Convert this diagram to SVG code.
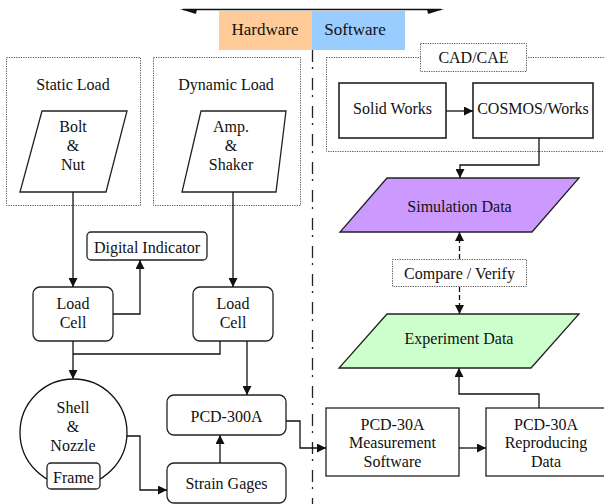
<svg xmlns="http://www.w3.org/2000/svg" width="604" height="504" viewBox="0 0 604 504">
<defs>
<marker id="ah" viewBox="0 0 10 10" refX="10" refY="5" markerWidth="9" markerHeight="9" markerUnits="userSpaceOnUse" orient="auto">
<path d="M0,0 L10,5 L0,10 Z" fill="#111"/>
</marker>
</defs>
<style>
text{font-family:"Liberation Serif","Times New Roman",serif;font-size:16px;fill:#111;text-anchor:middle}
.box{fill:#fff;stroke:#222;stroke-width:1.3}
.dot{fill:none;stroke:#555;stroke-width:1;stroke-dasharray:1.2 1.2}
.dotw{fill:#fff;stroke:#555;stroke-width:1;stroke-dasharray:1.2 1.2}
.c{fill:none;stroke:#111;stroke-width:1.3}
.ca{fill:none;stroke:#111;stroke-width:1.3;marker-end:url(#ah)}
.cd{fill:none;stroke:#111;stroke-width:1.3;stroke-dasharray:5 3;marker-end:url(#ah)}
</style>

<g id="header">
<line x1="183" y1="9.5" x2="441" y2="9.5" stroke="#111" stroke-width="1.5"/>
<path d="M180,9 L197,9 L196,14 Z" fill="#111"/>
<path d="M444,9 L427,9 L428,14 Z" fill="#111"/>
<rect x="219" y="11" width="93" height="39" fill="#FFCC99"/>
<rect x="312" y="11" width="93" height="39" fill="#99CCFF"/>
<text x="265" y="35" style="font-size:17px">Hardware</text>
<text x="355" y="35" style="font-size:17px">Software</text>
</g>

<g id="divider">
<line x1="312.5" y1="50" x2="312.5" y2="504" stroke="#222" stroke-width="1.3" stroke-dasharray="12 5 2 9"/>
</g>

<g id="static-load">
<rect class="dot" x="6.5" y="57.5" width="134" height="148"/>
<text x="73" y="90">Static Load</text>
</g>
<g id="dynamic-load">
<rect class="dot" x="153.5" y="57.5" width="147" height="148"/>
<text x="226" y="90">Dynamic Load</text>
</g>
<g id="bolt-nut">
<polygon class="box" points="42,111 127,111 106,192 20,192"/>
<text x="73" y="132">Bolt</text>
<text x="73" y="151">&amp;</text>
<text x="73" y="170">Nut</text>
</g>
<g id="amp-shaker">
<polygon class="box" points="201,111 286,111 276,192 182,192"/>
<text x="231" y="132">Amp.</text>
<text x="231" y="151">&amp;</text>
<text x="231" y="170">Shaker</text>
</g>
<g id="digital-indicator">
<rect class="box" x="87" y="232" width="120" height="28" rx="4"/>
<text x="147" y="253">Digital Indicator</text>
</g>
<g id="load-cell-1">
<rect class="box" x="33" y="287" width="80" height="54" rx="7"/>
<text x="73" y="309">Load</text>
<text x="73" y="328">Cell</text>
</g>
<g id="load-cell-2">
<rect class="box" x="193" y="287" width="80" height="54" rx="7"/>
<text x="233" y="309">Load</text>
<text x="233" y="328">Cell</text>
</g>
<g id="shell-nozzle">
<circle cx="73.5" cy="432.5" r="53.5" fill="#fff" stroke="#111" stroke-width="1.3"/>
<text x="73" y="413">Shell</text>
<text x="73" y="432">&amp;</text>
<text x="73" y="451">Nozzle</text>
</g>
<g id="frame">
<rect class="box" x="47" y="463" width="53" height="26" rx="4"/>
<text x="73.5" y="483">Frame</text>
</g>
<g id="pcd-300a">
<rect class="box" x="167" y="395" width="119" height="40" rx="7"/>
<text x="226.5" y="422">PCD-300A</text>
</g>
<g id="strain-gages">
<rect class="box" x="167" y="463" width="119" height="40" rx="7"/>
<text x="226.5" y="489">Strain Gages</text>
</g>

<g id="cad-cae">
<rect class="dot" x="326.5" y="57.5" width="300" height="94"/>
<rect class="dotw" x="420.5" y="43.5" width="106" height="28"/>
<text x="473.5" y="63">CAD/CAE</text>
</g>
<g id="solid-works">
<rect class="box" x="339" y="83" width="107" height="55" style="stroke-width:1.6"/>
<text x="392.5" y="114">Solid Works</text>
</g>
<g id="cosmos-works">
<rect class="box" x="473" y="83" width="120" height="55" style="stroke-width:1.6"/>
<text x="533" y="114">COSMOS/Works</text>
</g>
<g id="simulation-data">
<polygon points="387,178 579,178 532,232 340,232" fill="#CC99FF" stroke="#222" stroke-width="1.3"/>
<text x="459.5" y="212">Simulation Data</text>
</g>
<g id="compare-verify">
<rect class="dotw" x="392.5" y="259.5" width="134" height="27"/>
<text x="459.5" y="279">Compare / Verify</text>
</g>
<g id="experiment-data">
<polygon points="387,314 579,314 531,368 339,368" fill="#CCFFCC" stroke="#222" stroke-width="1.3"/>
<text x="459" y="344">Experiment Data</text>
</g>
<g id="measurement-software">
<rect class="box" x="326" y="408" width="133" height="68"/>
<text x="392.5" y="430">PCD-30A</text>
<text x="392.5" y="448">Measurement</text>
<text x="392.5" y="467">Software</text>
</g>
<g id="reproducing-data">
<rect class="box" x="486" y="408" width="120" height="68"/>
<text x="546" y="430">PCD-30A</text>
<text x="546" y="448">Reproducing</text>
<text x="546" y="467">Data</text>
</g>

<g id="connectors">
<path class="ca" d="M73,192 V287"/>
<path class="ca" d="M233,192 V287"/>
<path class="ca" d="M113,314 H140 V260"/>
<path class="ca" d="M73,341 V379"/>
<path class="c" d="M73,354 H220 V341"/>
<path class="ca" d="M247,341 V395"/>
<path class="ca" d="M127,436 H140 V490 H167"/>
<path class="ca" d="M220,463 V435"/>
<path class="ca" d="M286,421 H300 V448 H326"/>
<path class="ca" d="M459,448 H486"/>
<path class="ca" d="M539,408 V394 H459 V368"/>
<path class="ca" d="M446,111 H473"/>
<path class="ca" d="M539,138 V165 H460 V178"/>
<path class="cd" d="M459.5,259 V232"/>
<path class="cd" d="M459.5,287 V314"/>
</g>
</svg>
